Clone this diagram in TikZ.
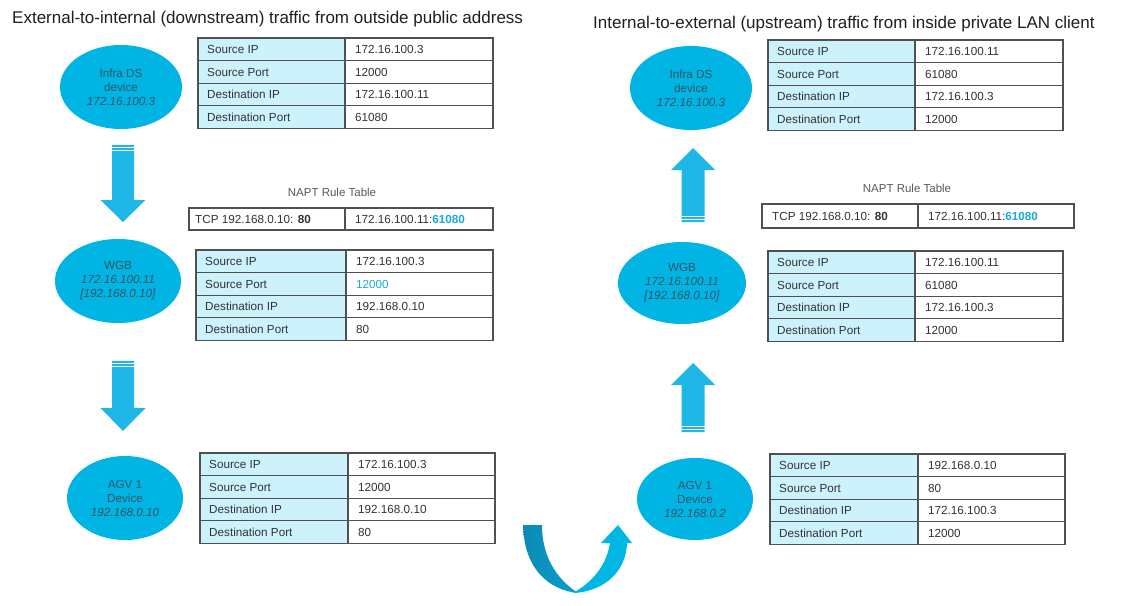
\documentclass[tikz,border=0pt]{standalone}
\usepackage{fontspec}
\setmainfont{Liberation Sans}
\usetikzlibrary{shapes.geometric}
\definecolor{ellcol}{RGB}{0,180,228}
\definecolor{arrcol}{RGB}{30,183,230}
\definecolor{cellcol}{RGB}{204,242,252}
\definecolor{linecol}{RGB}{80,80,80}
\definecolor{txtcol}{RGB}{51,51,51}
\definecolor{elltxt}{RGB}{50,85,100}
\definecolor{hicyan}{RGB}{26,170,218}
\definecolor{ushadeA}{RGB}{12,138,180}
\definecolor{ushadeA2}{RGB}{10,160,205}
\definecolor{ushadeB}{RGB}{0,182,228}
\tikzset{
 dev/.style={ellipse, fill=ellcol, draw=none, inner sep=0pt, align=center, text=elltxt, font=\fontsize{11.7}{14}\selectfont},
 cell/.style={anchor=west, inner sep=0pt, text height=8.4pt, text depth=0pt, text=txtcol, font=\fontsize{11.7}{14}\selectfont},
 tabline/.style={draw=linecol, line width=1.1pt},
 heading/.style={anchor=base west, inner sep=0pt, text=black!88, font=\fontsize{17}{20}\selectfont},
 capt/.style={inner sep=0pt, text=black!65, font=\fontsize{11.5}{14}\selectfont},
 blk/.style={fill=arrcol},
}
\newcommand\ptable[9]{%
 \fill[cellcol] (#2,#5) rectangle (#3,#5+90.4);
 \draw[tabline] (#2,#5) rectangle (#4,#5+90.4);
 \draw[tabline] (#3,#5) -- (#3,#5+90.4);
 \foreach \i in {1,2,3} {\draw[tabline] (#2,#5+22.6*\i) -- (#4,#5+22.6*\i);}
 \node[cell] (#1k1) at (#2+9,#5+11.3) {Source IP};
 \node[cell] (#1k2) at (#2+9,#5+33.9) {Source Port};
 \node[cell] (#1k3) at (#2+9,#5+56.5) {Destination IP};
 \node[cell] (#1k4) at (#2+9,#5+79.1) {Destination Port};
 \node[cell] (#1v1) at (#3+10,#5+11.3) {#6};
 \node[cell] (#1v2) at (#3+10,#5+33.9) {#7};
 \node[cell] (#1v3) at (#3+10,#5+56.5) {#8};
 \node[cell] (#1v4) at (#3+10,#5+79.1) {#9};
}
% #1 cx, #2 flat end y, #3 head base y, #4 tip y, #5 shaft half, #6 head half, #7 stripe offset sign (1 or -1)
\newcommand\blkarrow[7]{%
 \fill[blk] ({#1-#5},#2) -- ({#1+#5},#2) -- ({#1+#5},#3) -- ({#1+#6},#3) -- (#1,#4) -- ({#1-#6},#3) -- ({#1-#5},#3) -- cycle;
 \draw[white,line width=0.9pt] ({#1-#5},{#2+(#7)*2.6}) -- ({#1+#5},{#2+(#7)*2.6});
 \draw[white,line width=0.9pt] ({#1-#5},{#2+(#7)*5.6}) -- ({#1+#5},{#2+(#7)*5.6});
}
\begin{document}
\begin{tikzpicture}[x=1pt,y=-1pt]
\useasboundingbox[fill=white] (0,0) rectangle (1123,605);
% titles
\node[heading] (titleL) at (12,23.5) {External-to-internal (downstream) traffic from outside public address};
\node[heading] (titleR) at (593,28) {Internal-to-external (upstream) traffic from inside private LAN client};
% left column devices
\node[dev, minimum width=122pt, minimum height=84pt] (infraL) at (121,87) {Infra DS\\device\\\textit{172.16.100.3}};
\node[dev, minimum width=126pt, minimum height=84pt] (wgbL) at (118,281) {WGB\\\textit{172.16.100.11}\\\textit{[192.168.0.10]}};
\node[dev, minimum width=116pt, minimum height=84pt] (agvL) at (125,498) {AGV 1\\Device\\\textit{192.168.0.10}};
% right column devices
\node[dev, minimum width=122pt, minimum height=84pt] (infraR) at (691,88) {Infra DS\\device\\\textit{172.16.100.3}};
\node[dev, minimum width=128pt, minimum height=82pt] (wgbR) at (682,283) {WGB\\\textit{172.16.100.11}\\\textit{[192.168.0.10]}};
\node[dev, minimum width=116pt, minimum height=82pt] (agvR) at (695,499) {AGV 1\\Device\\\textit{192.168.0.2}};
% block arrows
\blkarrow{123}{145}{200}{222}{11}{22.5}{1}
\blkarrow{123}{361}{408}{431}{11}{22.5}{1}
\blkarrow{693}{222}{170}{148}{11.5}{22}{-1}
\blkarrow{693}{432}{385}{363}{11.5}{22}{-1}
% packet tables
\ptable{tA}{198}{345}{493}{38}{172.16.100.3}{12000}{172.16.100.11}{61080}
\ptable{tB}{196}{346}{493}{250}{172.16.100.3}{\textcolor{hicyan}{12000}}{192.168.0.10}{80}
\ptable{tC}{200}{348}{495}{453}{172.16.100.3}{12000}{192.168.0.10}{80}
\ptable{tD}{768}{915}{1063}{40}{172.16.100.11}{61080}{172.16.100.3}{12000}
\ptable{tE}{768}{915}{1063}{251}{172.16.100.11}{61080}{172.16.100.3}{12000}
\ptable{tF}{770}{918}{1065}{454}{192.168.0.10}{80}{172.16.100.3}{12000}
% NAPT rule tables
\node[capt] (naptcapL) at (332,192) {NAPT Rule Table};
\draw[tabline] (189,208) rectangle (493,230);
\draw[tabline] (345,208) -- (345,230);
\node[cell] (naptLa) at (195,219) {TCP 192.168.0.10: \textbf{80}};
\node[cell] (naptLb) at (355,219) {172.16.100.11:\textcolor{hicyan}{\textbf{61080}}};
\node[capt] (naptcapR) at (907,188) {NAPT Rule Table};
\draw[tabline] (762,204) rectangle (1074,228);
\draw[tabline] (918,204) -- (918,228);
\node[cell] (naptRa) at (772,216) {TCP 192.168.0.10: \textbf{80}};
\node[cell] (naptRb) at (928,216) {172.16.100.11:\textcolor{hicyan}{\textbf{61080}}};
% U-turn arrow
\shade[left color=ushadeA, right color=ushadeA2] (523,525) .. controls (524,568) and (548,590) .. (578,593) .. controls (555,578) and (542,555) .. (542,525) -- cycle;
\fill[ushadeB] (573,593) .. controls (600,592) and (626,575) .. (627,543) -- (632,543) -- (618,525) -- (601,543) -- (610,543) .. controls (607,562) and (596,580) .. (573,593) -- cycle;
\end{tikzpicture}
\end{document}
